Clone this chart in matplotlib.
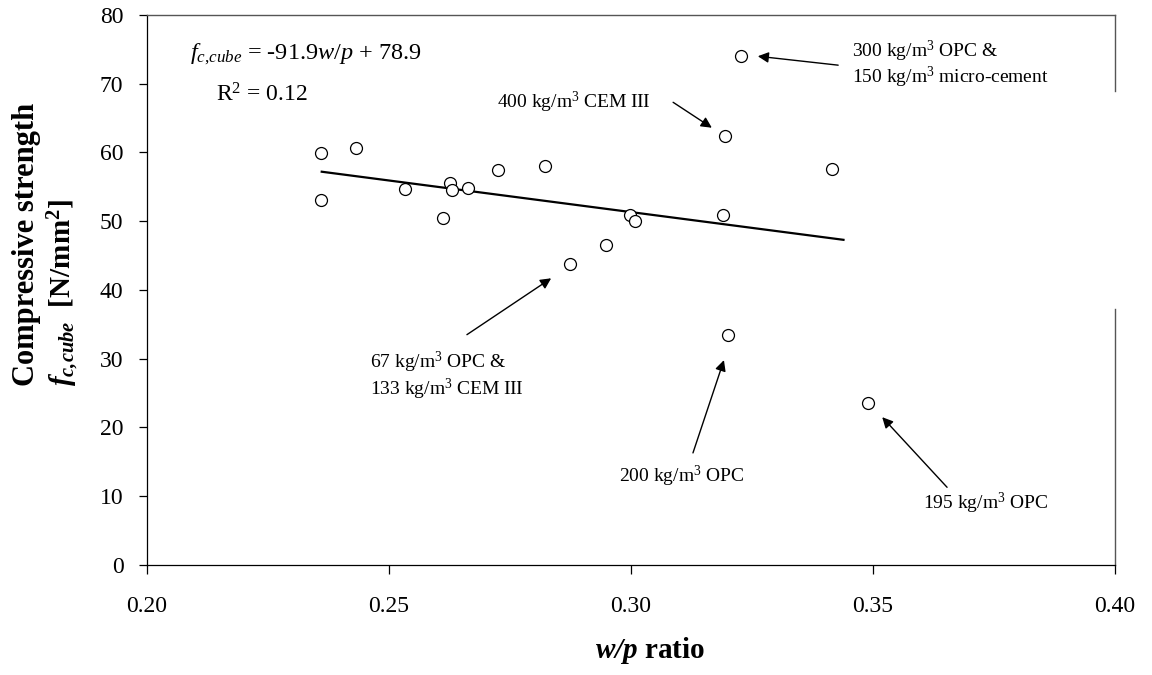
import matplotlib
matplotlib.use('Agg')
import matplotlib.pyplot as plt
from matplotlib.lines import Line2D

plt.rcParams['font.family'] = ['Liberation Serif', 'DejaVu Serif']
plt.rcParams['mathtext.fontset'] = 'custom'
plt.rcParams['mathtext.rm'] = 'Liberation Serif'
plt.rcParams['mathtext.it'] = 'Liberation Serif:italic'
plt.rcParams['mathtext.bf'] = 'Liberation Serif:bold'
plt.rcParams['mathtext.bfit'] = 'Liberation Serif:italic:bold'

# w/p ratio vs. cube compressive strength
wp_ratio = [0.2360, 0.2431, 0.2360, 0.2534, 0.2612, 0.2626, 0.2631, 0.2664, 0.2726, 0.2822,
            0.2874, 0.2948, 0.2997, 0.3008, 0.3191, 0.3194, 0.3201, 0.3227, 0.3415, 0.3489]
fc_cube = [59.9, 60.7, 53.1, 54.7, 50.5, 55.5, 54.5, 54.9, 57.5, 58.1,
           43.8, 46.6, 50.9, 50.1, 50.9, 62.4, 33.4, 74.1, 57.6, 23.5]

# linear fit from the chart
slope, intercept = -91.9, 78.9
fit_range = [0.2361, 0.3439]

# annotations: text, text anchor, arrow tail, arrow head
notes = [
    ('300 kg/m$^3$ OPC &\n150 kg/m$^3$ micro-cement', (0.3457, 72.8), (0.3428, 72.7), (0.3262, 74.0)),
    ('400 kg/m$^3$ CEM III', (0.2723, 67.3), (0.3087, 67.3), (0.3167, 63.6)),
    ('67 kg/m$^3$ OPC &\n133 kg/m$^3$ CEM III', (0.2461, 27.5), (0.2661, 33.5), (0.2835, 41.7)),
    ('200 kg/m$^3$ OPC', (0.2975, 12.9), (0.3128, 16.3), (0.3192, 29.8)),
    ('195 kg/m$^3$ OPC', (0.3603, 9.0), (0.3653, 11.3), (0.3519, 21.5)),
]

fig = plt.figure(figsize=(11.52, 6.75), dpi=100, facecolor='white')
ax = fig.add_axes([0.1276, 0.1630, 0.8403, 0.8148])

ax.plot(wp_ratio, fc_cube, ls='none', marker='o', ms=8.6, mfc='white',
        mec='black', mew=0.9, zorder=3)

fit_y = [slope * x + intercept for x in fit_range]
ax.plot(fit_range, fit_y, color='black', lw=1.6, zorder=2)

for label, txt_pos, tail, head in notes:
    ax.annotate('', xy=head, xytext=tail,
                arrowprops=dict(arrowstyle='-|>', color='black', lw=1.0,
                                mutation_scale=16, shrinkA=0, shrinkB=0))
    ax.text(txt_pos[0], txt_pos[1], label, ha='left', va='center',
            fontsize=14, linespacing=1.05)

ax.text(0.2089, 74.2, r'$f_{c{,}cube}$ = -91.9$w/p$ + 78.9', ha='left', va='center', fontsize=17.5)
ax.text(0.2143, 68.4, r'R$^2$ = 0.12', ha='left', va='center', fontsize=17)

ax.set_xlim(0.20, 0.40)
ax.set_ylim(0, 80)
ax.set_xticks([0.20, 0.25, 0.30, 0.35, 0.40])
ax.set_xticklabels(['0.20', '0.25', '0.30', '0.35', '0.40'])
ax.set_yticks(range(0, 81, 10))
ax.tick_params(axis='x', direction='out', length=6.5, width=0.9, pad=16, labelsize=17)
ax.tick_params(axis='y', direction='out', length=6, width=0.9, pad=11, labelsize=17)

for side in ['left', 'bottom']:
    ax.spines[side].set_linewidth(0.9)
ax.spines['top'].set_color('#555555')
ax.spines['top'].set_linewidth(1.0)
# right border is broken in the original
ax.spines['right'].set_color('#555555')
ax.spines['right'].set_linewidth(1.0)
ax.spines['right'].set_bounds(0, 37.2)
ax.add_line(Line2D([1, 1], [68.9, 80], transform=ax.get_yaxis_transform(),
                   color='#555555', lw=1.0, clip_on=False))

fig.text(650 / 1152, 1 - 650 / 675, r'$\mathbfit{w/p}$ ratio', ha='center', va='center',
         fontsize=21, fontweight='bold')
fig.text(27 / 1152, 1 - 386 / 675, 'Compressive strength', rotation=90,
         ha='center', va='bottom', fontsize=22, fontweight='bold')
fig.text(64 / 1152, 1 - 386 / 675, r'$\mathbfit{f}_{\mathbfit{c{,}cube}}$  $\mathbf{[N/mm^2]}$',
         rotation=90, ha='center', va='bottom', fontsize=21)

fig.savefig('out.png', dpi=100, facecolor='white')
